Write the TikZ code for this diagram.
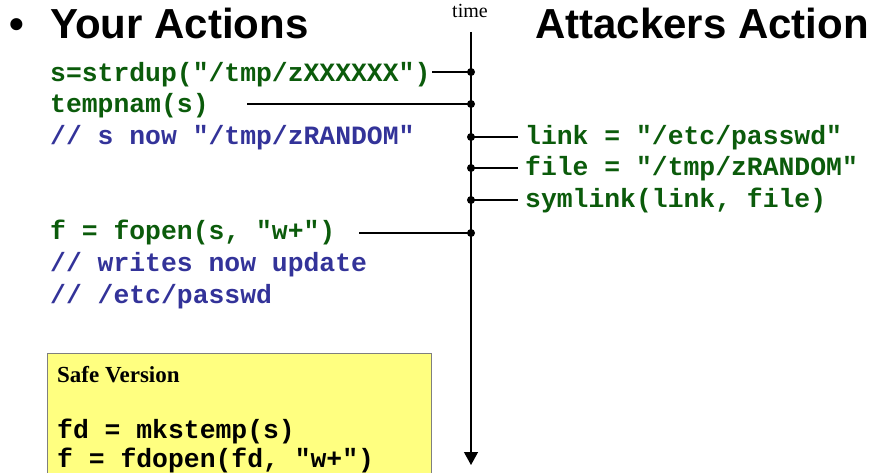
\documentclass[tikz,border=0pt]{standalone}
\usepackage{fontspec}
\setmainfont{Liberation Serif}
\newfontfamily\hdfont{Liberation Sans}
\newfontfamily\cdfont{Liberation Mono}
\usetikzlibrary{arrows.meta}
\definecolor{cgreen}{HTML}{0B5B0B}
\definecolor{cblue}{HTML}{333399}
\definecolor{cyel}{HTML}{FFFF80}
\definecolor{cbord}{HTML}{7F7F7F}
\begin{document}
\begin{tikzpicture}[x=1pt,y=-1pt,
  titletext/.style={anchor=base west, inner sep=0pt, font=\hdfont\bfseries\fontsize{42}{42}\selectfont},
  codeg/.style={anchor=base west, inner sep=0pt, text=cgreen, font=\cdfont\bfseries\fontsize{26.4}{26.4}\selectfont},
  codeb/.style={codeg, text=cblue},
  codek/.style={codeg, text=black},
  conn/.style={line width=1.3pt, black},
  tdot/.style={fill=black, circle, inner sep=0pt, minimum size=8pt},
]
\useasboundingbox (0,0) rectangle (884,473);
% titles
\node[titletext] (bul) at (9,39) {•};
\node[titletext] (your) at (50,39) {Your Actions};
\node[titletext] (att) at (535,39) {Attackers Action};
\node[anchor=base, inner sep=0pt, font=\fontsize{20}{20}\selectfont] (time) at (470,18) {time};
% safe box
\fill[cyel] (47,353) rectangle (431,474);
\draw[cbord, line width=1pt] (47,474) -- (47,353) -- (431,353) -- (431,474);
\node[anchor=base west, inner sep=0pt, font=\bfseries\fontsize{23}{23}\selectfont] (safe) at (57,382) {Safe Version};
\node[codek] (mk) at (57,438) {fd = mkstemp(s)};
\node[codek] (fdo) at (57,467) {f = fdopen(fd, "w+")};
% left code
\node[codeg] (l1) at (50,82) {s=strdup("/tmp/zXXXXXX")};
\node[codeg] (l2) at (50,113) {tempnam(s)};
\node[codeb] (l3) at (50,145) {// s now "/tmp/zRANDOM"};
\node[codeg] (l4) at (50,240) {f = fopen(s, "w+")};
\node[codeb] (l5) at (50,272) {// writes now update};
\node[codeb] (l6) at (50,304) {// /etc/passwd};
% right code
\node[codeg] (r1) at (525,145) {link = "/etc/passwd"};
\node[codeg] (r2) at (525,176) {file = "/tmp/zRANDOM"};
\node[codeg] (r3) at (525,208) {symlink(link, file)};
% timeline
\coordinate (ttop) at (471,32);
\coordinate (tbot) at (471,465);
\draw[conn, -{Triangle[length=13pt,width=14pt]}] (ttop) -- (tbot);
\node[tdot] (d1) at (471,72) {};
\node[tdot] (d2) at (471,104) {};
\node[tdot] (d3) at (471,137) {};
\node[tdot] (d4) at (471,168) {};
\node[tdot] (d5) at (471,200) {};
\node[tdot] (d6) at (471,233) {};
\coordinate (e1) at (432,72);
\coordinate (e2) at (247,104);
\coordinate (e6) at (359,233);
\coordinate (f3) at (518,137);
\coordinate (f4) at (518,168);
\coordinate (f5) at (518,200);
\draw[conn] (e1) -- (d1.center);
\draw[conn] (e2) -- (d2.center);
\draw[conn] (e6) -- (d6.center);
\draw[conn] (d3.center) -- (f3);
\draw[conn] (d4.center) -- (f4);
\draw[conn] (d5.center) -- (f5);
\end{tikzpicture}
\end{document}
